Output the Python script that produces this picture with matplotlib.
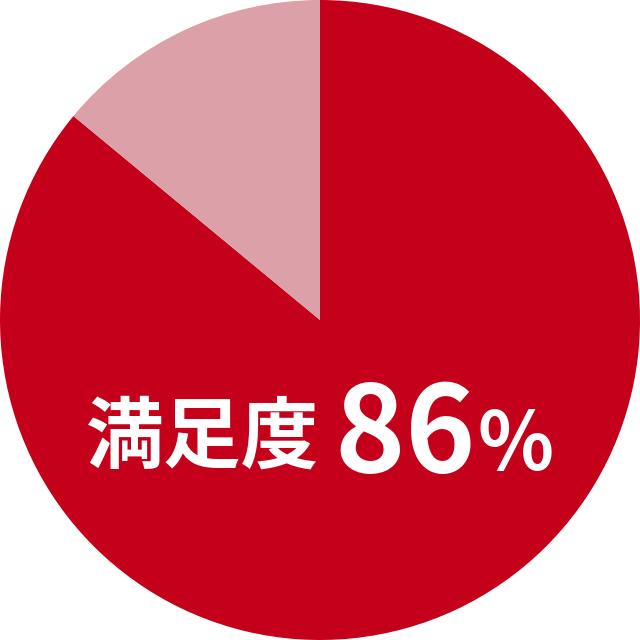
import matplotlib
matplotlib.use("Agg")
import matplotlib.pyplot as plt

labels = ["満足", "その他"]
values = [86, 14]
colors = ["#C4001A", "#DBA0A8"]

plt.rcParams['font.family'] = ['Noto Sans CJK JP', 'DejaVu Sans']

fig = plt.figure(figsize=(6.4, 6.4), dpi=100)
ax = fig.add_axes([0, 0, 1, 1])
ax.pie(values, colors=colors, startangle=90, counterclock=False, radius=1.0,
       wedgeprops=dict(linewidth=0))
ax.set_xlim(-1, 1)
ax.set_ylim(-1, 1)
ax.set_aspect('equal')
ax.axis('off')


def px(x, y):
    return (x - 320) / 320, (320 - y) / 320


ax.text(*px(85, 462), "満足度", color="white", fontsize=56, fontweight="bold",
        ha="left", va="baseline")
# digits a bit wider apart, as in the reference
ax.text(*px(334, 472), "8", color="white", fontsize=86, fontweight="bold",
        ha="left", va="baseline")
ax.text(*px(405, 472), "6", color="white", fontsize=86, fontweight="bold",
        ha="left", va="baseline")
ax.text(*px(478, 470), "%", color="white", fontsize=57, fontweight="bold",
        ha="left", va="baseline")

fig.savefig("out.png", dpi=100)
